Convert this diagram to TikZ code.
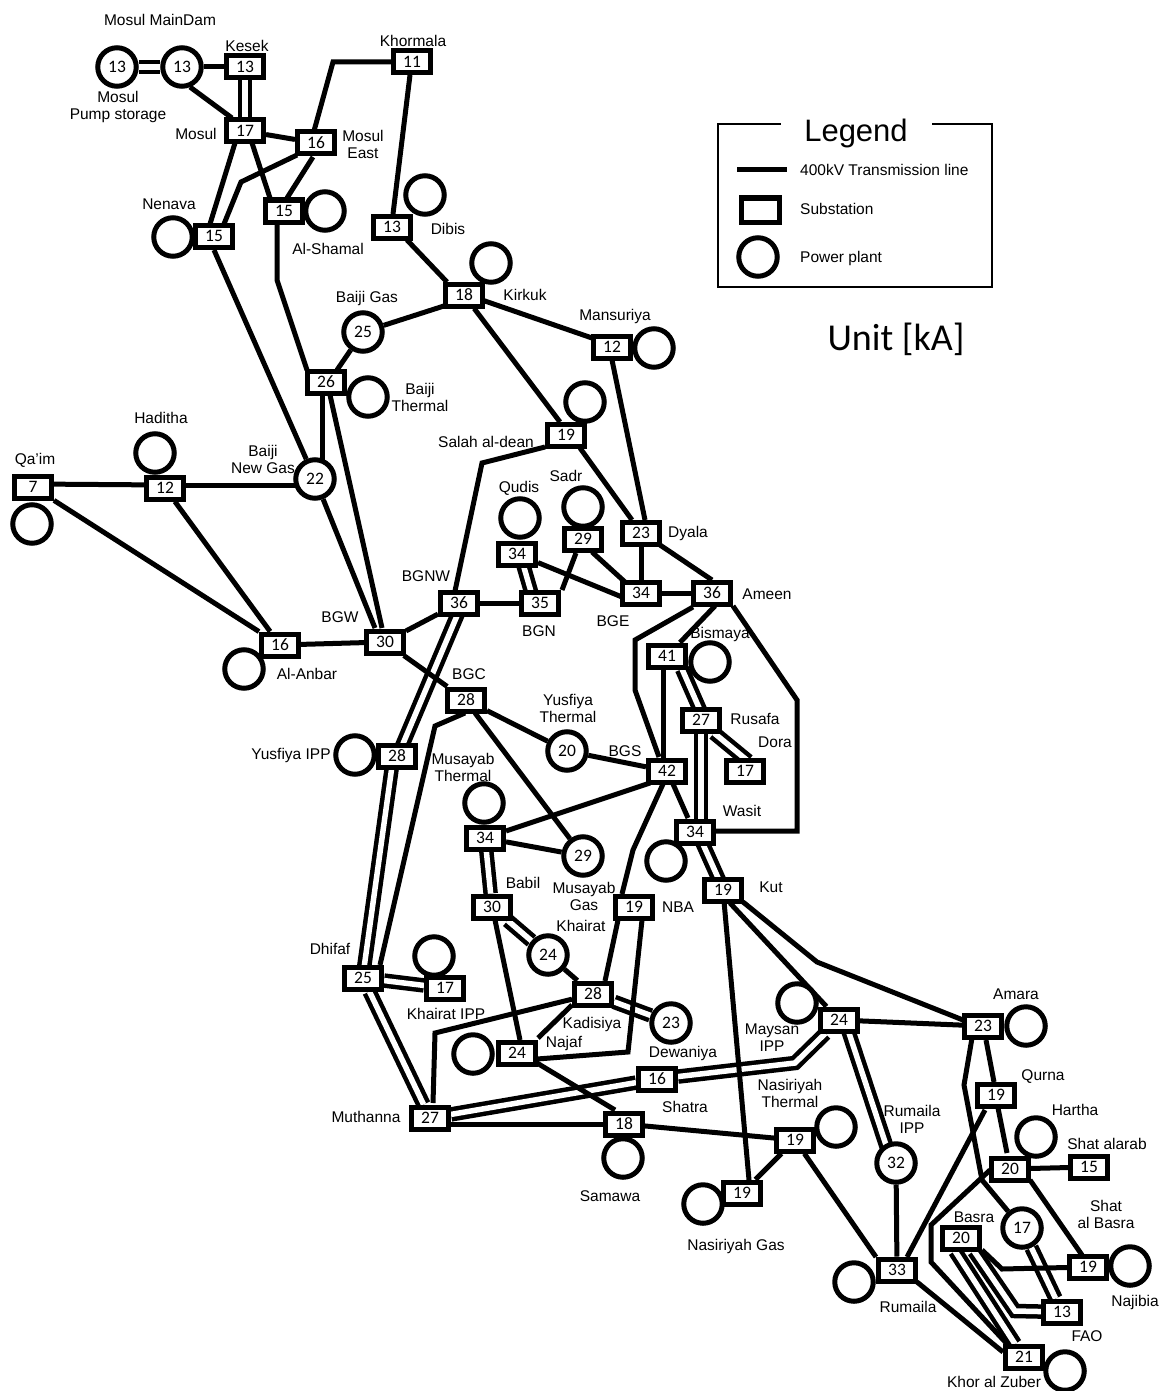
\documentclass[tikz,border=0pt]{standalone}
\usepackage{fontspec}
\usetikzlibrary{calc}
\setmainfont{Liberation Sans}
\newfontfamily\numfont{Carlito}
\pgfdeclarelayer{bg}
\pgfsetlayers{bg,main}
\tikzset{
  subst/.style={draw, line width=5pt, fill=white, minimum width=37pt, minimum height=22pt, inner sep=0pt, font=\numfont\fontsize{17.5}{18}\selectfont},
  plant/.style={draw, circle, line width=5pt, fill=white, minimum size=38.5pt, inner sep=0pt, font=\numfont\fontsize{17.5}{18}\selectfont},
  lbl/.style={inner sep=0pt, align=center, font=\fontsize{15.5}{17}\selectfont},
  tline/.style={line width=5pt},
  dline/.style={line width=4.5pt, double, double distance=5.5pt}
}
\begin{document}
\begin{tikzpicture}[x=1pt, y=-1pt]
\useasboundingbox (0,0) rectangle (1161,1391);
% substations
\node[subst] (kesek) at (245,67) {13};
\node[subst] (khormala) at (412,62) {11};
\node[subst] (mosul) at (245,131) {17};
\node[subst] (mosulE) at (316,143) {16};
\node[subst] (nenavaS) at (214,236) {15};
\node[subst] (shamalS) at (284,211) {15};
\node[subst] (dibisS) at (392,227) {13};
\node[subst] (kirkukS) at (464,295) {18};
\node[subst] (baiji) at (326,382) {26};
\node[subst] (mansuriyaS) at (612,347) {12};
\node[subst] (qaim) at (33,487) {7};
\node[subst] (haditha) at (165,488) {12};
\node[subst] (anbarS) at (280,645) {16};
\node[subst] (bgw) at (385,642) {30};
\node[subst] (bgnw) at (459,603) {36};
\node[subst] (bgn) at (540,603) {35};
\node[subst] (qudisS) at (517,554) {34};
\node[subst] (sadrS) at (583,539) {29};
\node[subst] (salahS) at (566,435) {19};
\node[subst] (dyala) at (641,533) {23};
\node[subst] (bge) at (641,593) {34};
\node[subst] (ameen) at (712,593) {36};
\node[subst] (bismayaS) at (667,656) {41};
\node[subst] (rusafa) at (701,720) {27};
\node[subst] (dora) at (745,771) {17};
\node[subst] (bgs) at (667,771) {42};
\node[subst] (wasitS) at (695,832) {34};
\node[subst] (kut) at (723,890) {19};
\node[subst] (bgc) at (466,700) {28};
\node[subst] (yusfiyaS) at (397,756) {28};
\node[subst] (musayabS) at (485,838) {34};
\node[subst] (babil) at (492,907) {30};
\node[subst] (nba) at (634,907) {19};
\node[subst] (dhifaf) at (363,978) {25};
\node[subst] (khairatS) at (445,988) {17};
\node[subst] (kadisiya) at (593,994) {28};
\node[subst] (najafS) at (517,1053) {24};
\node[subst] (dewaniya) at (657,1079) {16};
\node[subst] (muthanna) at (430,1118) {27};
\node[subst] (shatra) at (624,1124) {18};
\node[subst] (maysanS) at (839,1020) {24};
\node[subst] (amaraS) at (983,1026) {23};
\node[subst] (qurna) at (996,1095) {19};
\node[subst] (harthaS) at (1010,1169) {20};
\node[subst] (alarab) at (1089,1167) {15};
\node[subst] (najibiaS) at (1088,1267) {19};
\node[subst] (basra) at (961,1238) {20};
\node[subst] (fao) at (1062,1312) {13};
\node[subst] (khorS) at (1024,1357) {21};
\node[subst] (rumailaS) at (897,1270) {33};
\node[subst] (nasThS) at (795,1140) {19};
\node[subst] (nasGasS) at (742,1193) {19};
% power plants
\node[plant] (pump) at (117,67) {13};
\node[plant] (dam) at (182,67) {13};
\node[plant] (nenavaP) at (173,237) {};
\node[plant] (shamalP) at (325,211) {};
\node[plant] (dibisP) at (425,195) {};
\node[plant] (kirkukP) at (491,263) {};
\node[plant] (baijiGas) at (363,332) {25};
\node[plant] (baijiTh) at (368,397) {};
\node[plant] (hadithaP) at (155,453) {};
\node[plant] (qaimP) at (32,524) {};
\node[plant] (newGas) at (315,479) {22};
\node[plant] (anbarP) at (244,669) {};
\node[plant] (mansuriyaP) at (654,348) {};
\node[plant] (salahP) at (585,402) {};
\node[plant] (qudisP) at (520,518) {};
\node[plant] (sadrP) at (583,507) {};
\node[plant] (bismayaP) at (710,662) {};
\node[plant] (yusTh) at (567,751) {20};
\node[plant] (yusIpp) at (355,755) {};
\node[plant] (musTh) at (484,803) {};
\node[plant] (musGas) at (583,856) {29};
\node[plant] (wasitP) at (666,861) {};
\node[plant] (khairat) at (548,955) {24};
\node[plant] (khairatIpp) at (434,956) {};
\node[plant] (dewP) at (671,1023) {23};
\node[plant] (najafP) at (473,1054) {};
\node[plant] (samawaP) at (623,1158) {};
\node[plant] (maysanP) at (797,1003) {};
\node[plant] (amaraP) at (1026,1026) {};
\node[plant] (rumIpp) at (896,1163) {32};
\node[plant] (nasThP) at (836,1127) {};
\node[plant] (nasGasP) at (703,1204) {};
\node[plant] (harthaP) at (1036,1137) {};
\node[plant] (basraP) at (1022,1228) {17};
\node[plant] (najibiaP) at (1130,1266) {};
\node[plant] (khorP) at (1065,1371) {};
\node[plant] (rumailaP) at (854,1282) {};
% lines
\begin{pgfonlayer}{bg}
\draw[dline] (pump) -- (dam);
\draw[dline] (kesek) -- (mosul);
\draw[dline] ($(bgnw)+(0,8)$) -- ($(yusfiyaS)+(5,-10)$);
\draw[dline] ($(yusfiyaS)+(-5,10)$) -- ($(dhifaf)+(1,-10)$);
\draw[dline] ($(qudisS)+(6,10)$) -- ($(bgn)+(-8,-8)$);
\draw[dline] ($(bismayaS)+(15,13)$) -- ($(rusafa)+(-1,-10)$);
\draw[dline] ($(rusafa)+(13,13)$) -- ($(dora)+(3,-10)$);
\draw[dline] (rusafa) -- ($(wasitS)+(6,0)$);
\draw[dline] ($(wasitS)+(7,10)$) -- ($(kut)+(-4,-10)$);
\draw[dline] (musayabS) -- (babil);
\draw[dline] (babil) -- (khairat);
\draw[dline] (dhifaf) -- (khairatS);
\draw[dline] (dhifaf) -- (muthanna);
\draw[dline] (kadisiya) -- (dewP);
\draw[dline] (muthanna) -- (dewaniya);
\draw[dline] (dewaniya) -- (795,1063) -- (maysanS);
\draw[dline] ($(maysanS)+(9,10)$) -- ($(rumIpp)+(-9,-15)$);
\draw[dline] (basraP) -- (fao);
\draw[dline] ($(basra)+(13,13)$) -- (1015,1311) -- (fao);
\draw[dline] ($(basra)+(-6,13)$) -- ($(khorS)+(-9,-13)$);
\draw[tline] (dam) -- (kesek);
\draw[tline] ($(dam)+(8,20)$) -- ($(mosul)+(-13,-13)$);
\draw[tline] (mosul) -- (mosulE);
\draw[tline] ($(mosul)+(-10,12)$) -- ($(nenavaS)+(-4,-12)$);
\draw[tline] ($(mosulE)+(-19,12)$) -- (241,182) -- ($(nenavaS)+(10,-12)$);
\draw[tline] ($(mosul)+(7,12)$) -- ($(shamalS)+(-14,-13)$);
\draw[tline] ($(mosulE)+(-3,14)$) -- ($(shamalS)+(3,-13)$);
\draw[tline] (khormala) -- (333,62) -- ($(mosulE)+(-2,-12)$);
\draw[tline] ($(khormala)+(-2,13)$) -- ($(dibisS)+(1,-13)$);
\draw[tline] ($(dibisS)+(15,13)$) -- ($(kirkukS)+(-17,-13)$);
\draw[tline] ($(kirkukS)+(-17,10)$) -- (baijiGas);
\draw[tline] (baijiGas) -- ($(baiji)+(11,-12)$);
\draw[tline] ($(shamalS)+(-7,13)$) -- (277,280) -- ($(baiji)+(-19,-12)$);
\draw[tline] ($(nenavaS)+(0,14)$) -- (newGas);
\draw[tline] ($(baiji)+(-4,13)$) -- ($(newGas)+(7,-19)$);
\draw[tline] ($(baiji)+(4,13)$) -- ($(bgw)+(-3,-14)$);
\draw[tline] (newGas) -- ($(bgw)+(-10,-14)$);
\draw[tline] ($(qaim)+(0,-3)$) -- ($(haditha)+(0,-3)$);
\draw[tline] ($(haditha)+(0,-3)$) -- ($(newGas)+(0,6)$);
\draw[tline] (qaim) -- (anbarS);
\draw[tline] (haditha) -- (anbarS);
\draw[tline] (anbarS) -- (bgw);
\draw[tline] (bgw) -- (bgnw);
\draw[tline] (bgw) -- (bgc);
\draw[tline] (bgnw) -- (bgn);
\draw[tline] ($(bgnw)+(-4,-12)$) -- (482,463) -- ($(salahS)+(-21,12)$);
\draw[tline] ($(salahS)+(14,13)$) -- ($(dyala)+(-9,-13)$);
\draw[tline] (kirkukS) -- ($(salahS)+(-6,-13)$);
\draw[tline] ($(kirkukS)+(18,5)$) -- ($(mansuriyaS)+(-20,-9)$);
\draw[tline] ($(mansuriyaS)+(0,13)$) -- ($(dyala)+(4,-13)$);
\draw[tline] (qudisS) -- ($(bge)+(-19,4)$);
\draw[tline] ($(sadrS)+(-7,14)$) -- ($(bgn)+(22,-13)$);
\draw[tline] ($(sadrS)+(9,13)$) -- ($(bge)+(-16,-11)$);
\draw[tline] (dyala) -- (bge);
\draw[tline] ($(dyala)+(19,12)$) -- ($(ameen)+(0,-13)$);
\draw[tline] (bge) -- (ameen);
\draw[tline] ($(ameen)+(-19,14)$) -- (635,640) -- (635,690) -- ($(bgs)+(-8,-14)$);
\draw[tline] ($(ameen)+(3,13)$) -- (bismayaS);
\draw[tline] ($(bismayaS)+(-4,13)$) -- ($(bgs)+(-4,-13)$);
\draw[tline] ($(ameen)+(21,13)$) -- (797,700) -- (797,831) -- ($(wasitS)+(21,-1)$);
\draw[tline] ($(bgs)+(6,13)$) -- ($(wasitS)+(-7,-14)$);
\draw[tline] ($(bgs)+(-17,12)$) -- (musayabS);
\draw[tline] (bgc) -- (yusTh);
\draw[tline] (yusTh) -- (bgs);
\draw[tline] ($(bgc)+(9,13)$) -- (musGas);
\draw[tline] ($(bgc)+(-1,13)$) -- (435,726) -- ($(dhifaf)+(17,-13)$);
\draw[tline] (musayabS) -- (musGas);
\draw[tline] ($(bgs)+(-4,13)$) -- (633,850) -- ($(nba)+(-12,-13)$);
\draw[tline] ($(nba)+(-16,13)$) -- ($(kadisiya)+(12,-13)$);
\draw[tline] ($(nba)+(8,13)$) -- (628,1052) -- ($(najafS)+(20,6)$);
\draw[tline] ($(babil)+(3,13)$) -- ($(najafS)+(3,-13)$);
\draw[tline] (khairat) -- (kadisiya);
\draw[tline] ($(kadisiya)+(-21,11)$) -- ($(najafS)+(21,-15)$);
\draw[tline] (kadisiya) -- (435,1033) -- ($(muthanna)+(3,-15)$);
\draw[tline] ($(najafS)+(20,10)$) -- ($(shatra)+(-9,-14)$);
\draw[tline] ($(muthanna)+(0,6)$) -- ($(shatra)+(0,0)$);
\draw[tline] (shatra) -- (nasThS);
\draw[tline] ($(kut)+(7,13)$) -- (maysanS);
\draw[tline] ($(kut)+(20,12)$) -- (817,962) -- ($(amaraS)+(-20,-6)$);
\draw[tline] (kut) -- ($(nasGasS)+(7,-13)$);
\draw[tline] (nasThS) -- (nasGasS);
\draw[tline] (nasThS) -- ($(rumailaS)+(-21,-13)$);
\draw[tline] (maysanS) -- (amaraS);
\draw[tline] ($(amaraS)+(3,14)$) -- ($(qurna)+(-2,-13)$);
\draw[tline] ($(amaraS)+(-11,12)$) -- (964,1085) -- (982,1180) -- (basraP);
\draw[tline] ($(qurna)+(2,13)$) -- ($(harthaS)+(-3,-16)$);
\draw[tline] ($(qurna)+(-11,15)$) -- ($(rumailaS)+(10,-13)$);
\draw[tline] (harthaS) -- (alarab);
\draw[tline] ($(harthaS)+(20,11)$) -- ($(najibiaS)+(-6,-12)$);
\draw[tline] ($(harthaS)+(-20,1)$) -- (931,1225) -- (931,1262) -- ($(khorS)+(-16,-12)$);
\draw[tline] ($(rumailaS)+(20,12)$) -- ($(khorS)+(-21,-5)$);
\draw[tline] (rumIpp) -- (rumailaS);
\draw[tline] ($(basra)+(21,12)$) -- (1002,1269) -- (najibiaS);
\end{pgfonlayer}
% labels
\node[lbl] (l1) at (160,20) {Mosul MainDam};
\node[lbl] (l2) at (247,46) {Kesek};
\node[lbl] (l3) at (413,41) {Khormala};
\node[lbl] (l4) at (118,107) {Mosul\\Pump storage};
\node[lbl] (l5) at (196,134) {Mosul};
\node[lbl] (l6) at (363,144) {Mosul\\East};
\node[lbl] (l7) at (169,204) {Nenava};
\node[lbl] (l8) at (328,249) {Al-Shamal};
\node[lbl] (l9) at (448,229) {Dibis};
\node[lbl] (l10) at (525,295) {Kirkuk};
\node[lbl] (l11) at (367,298) {Baiji Gas};
\node[lbl] (l12) at (420,397) {Baiji\\Thermal};
\node[lbl] (l13) at (161,418) {Haditha};
\node[lbl] (l14) at (35,460) {Qa'im};
\node[lbl] (l15) at (263,459) {Baiji\\New Gas};
\node[lbl] (l16) at (615,316) {Mansuriya};
\node[lbl] (l17) at (486,442) {Salah al-dean};
\node[lbl] (l18) at (519,488) {Qudis};
\node[lbl] (l19) at (566,476) {Sadr};
\node[lbl] (l20) at (688,533) {Dyala};
\node[lbl] (l21) at (426,576) {BGNW};
\node[lbl] (l22) at (539,631) {BGN};
\node[lbl] (l23) at (613,621) {BGE};
\node[lbl] (l24) at (767,594) {Ameen};
\node[lbl] (l25) at (720,634) {Bismaya};
\node[lbl] (l26) at (340,617) {BGW};
\node[lbl] (l27) at (307,674) {Al-Anbar};
\node[lbl] (l28) at (469,674) {BGC};
\node[lbl] (l29) at (568,708) {Yusfiya\\Thermal};
\node[lbl] (l30) at (625,751) {BGS};
\node[lbl] (l31) at (755,719) {Rusafa};
\node[lbl] (l32) at (775,742) {Dora};
\node[lbl] (l33) at (742,811) {Wasit};
\node[lbl] (l34) at (771,887) {Kut};
\node[lbl] (l35) at (291,755) {Yusfiya IPP};
\node[lbl] (l36) at (463,767) {Musayab\\Thermal};
\node[lbl] (l37) at (584,896) {Musayab\\Gas};
\node[lbl] (l38) at (523,883) {Babil};
\node[lbl] (l39) at (678,907) {NBA};
\node[lbl] (l40) at (581,926) {Khairat};
\node[lbl] (l41) at (330,949) {Dhifaf};
\node[lbl] (l42) at (446,1014) {Khairat IPP};
\node[lbl] (l43) at (592,1024) {Kadisiya};
\node[lbl] (l44) at (564,1043) {Najaf};
\node[lbl] (l45) at (683,1053) {Dewaniya};
\node[lbl] (l46) at (772,1038) {Maysan\\IPP};
\node[lbl] (l47) at (366,1117) {Muthanna};
\node[lbl] (l48) at (685,1107) {Shatra};
\node[lbl] (l49) at (790,1093) {Nasiriyah\\Thermal};
\node[lbl] (l50) at (912,1119) {Rumaila\\IPP};
\node[lbl] (l51) at (610,1196) {Samawa};
\node[lbl] (l52) at (736,1246) {Nasiriyah Gas};
\node[lbl] (l53) at (1016,994) {Amara};
\node[lbl] (l54) at (1043,1077) {Qurna};
\node[lbl] (l55) at (1075,1110) {Hartha};
\node[lbl] (l56) at (1107,1144) {Shat alarab};
\node[lbl] (l57) at (1106,1214) {Shat\\al Basra};
\node[lbl] (l58) at (974,1217) {Basra};
\node[lbl] (l59) at (1135,1302) {Najibia};
\node[lbl] (l60) at (908,1307) {Rumaila};
\node[lbl] (l61) at (1087,1336) {FAO};
\node[lbl] (l62) at (994,1382) {Khor al Zuber};
% legend
\draw[line width=1.1pt] (718,124) rectangle (992,287);
\node[fill=white, minimum width=151pt, inner sep=0pt, font=\fontsize{31}{32}\selectfont] (legend) at (856,133) {Legend};
\coordinate (legA) at (737,170);
\coordinate (legB) at (787,170);
\draw[tline] (legA) -- (legB);
\node[subst, minimum width=38pt, minimum height=24pt] (legS) at (760,210) {};
\node[plant] (legP) at (758,257) {};
\node[lbl, anchor=west] (legT1) at (800,170) {400kV Transmission line};
\node[lbl, anchor=west] (legT2) at (800,209) {Substation};
\node[lbl, anchor=west] (legT3) at (800,258) {Power plant};
\node[inner sep=0pt, font=\numfont\fontsize{38}{40}\selectfont] (unit) at (896,339) {Unit [kA]};
\end{tikzpicture}
\end{document}
